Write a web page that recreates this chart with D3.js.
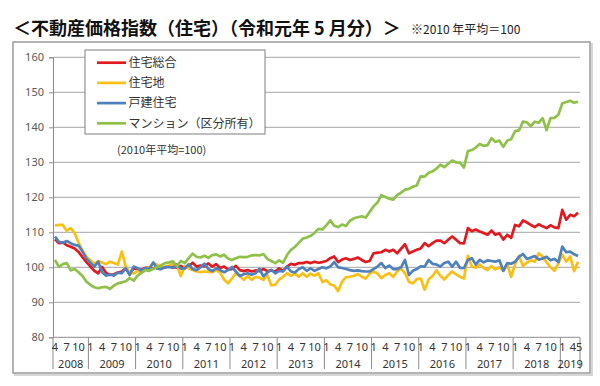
<!DOCTYPE html>
<html>
<head>
<meta charset="utf-8">
<script src="https://cdn.jsdelivr.net/npm/d3@7"></script>
<style>
  body { margin: 0; background: #fff; }
  svg { display: block; font-family: "Noto Sans CJK JP", "Noto Sans", sans-serif; }
</style>
</head>
<body>
<svg width="600" height="386"></svg>
<script>
// chart values (2010 avg = 100), monthly from 2008-04 to 2019-05
const years = [2008, 2009, 2010, 2011, 2012, 2013, 2014, 2015, 2016, 2017, 2018, 2019];
const firstMonth = 4;   // first month shown in 2008
const lastMonth = 5;    // last month shown in 2019
const tickMonths = [1, 4, 7, 10];
const yTicks = [80, 90, 100, 110, 120, 130, 140, 150, 160];

const seriesNames = ['住宅総合', '住宅地', '戸建住宅', 'マンション（区分所有）'];
const seriesColors = ['#e01a1f', '#fbbf14', '#4f81bd', '#8fc04a'];

const total = [
  108.0, 106.9, 107.1, 106.3, 105.9, 105.4, 104.4, 102.9, 101.5,
  100.3, 99.0, 98.3, 100.1, 98.4, 97.8, 98.0, 98.5, 98.8, 99.7, 98.2, 99.7,
  99.5, 99.3, 99.8, 100.0, 99.6, 100.2, 99.9, 100.0, 100.3, 100.1, 99.9, 100.4,
  99.7, 100.3, 101.3, 100.2, 100.5, 100.3, 101.1, 100.2, 100.9, 99.8, 100.2, 99.4,
  99.5, 100.4, 99.2, 98.9, 99.2, 98.8, 99.1, 98.9, 99.5, 98.9, 99.1, 98.8,
  99.7, 99.0, 100.2, 101.0, 100.7, 101.2, 101.2, 101.5, 101.2, 101.6, 101.3, 101.5,
  101.8, 102.6, 103.1, 101.5, 102.2, 102.6, 102.1, 102.4, 102.8, 102.1, 101.5, 101.8,
  104.0, 104.2, 104.3, 105.0, 104.5, 105.0, 104.0, 105.3, 106.6, 104.0, 104.5, 105.0,
  105.4, 106.9, 106.0, 106.9, 107.6, 107.6, 106.9, 107.9, 108.8, 107.9, 106.9, 106.8,
  111.2, 110.3, 110.8, 110.2, 109.8, 109.3, 110.5, 109.3, 109.7, 107.9, 109.3, 108.4,
  112.1, 111.7, 113.4, 112.8, 112.1, 111.5, 112.3, 111.7, 111.2, 112.0, 111.4, 111.2,
  116.4, 113.6, 115.0, 114.6, 115.6
];
const land = [
  111.9, 112.1, 112.1, 110.4, 111.2, 109.8, 107.0, 104.8, 103.0,
  102.0, 101.0, 101.8, 101.4, 100.9, 101.6, 101.2, 100.8, 104.5, 100.2, 98.6, 98.2,
  99.0, 98.5, 99.6, 100.0, 101.2, 100.7, 99.7, 100.2, 100.4, 101.0, 100.8, 97.5,
  100.2, 99.7, 99.2, 98.8, 98.6, 98.8, 98.7, 98.6, 99.2, 98.5, 96.5, 95.4,
  96.8, 98.3, 97.6, 96.4, 97.5, 96.4, 97.3, 97.0, 96.4, 97.8, 94.9, 95.0,
  96.5, 97.3, 98.3, 97.6, 98.2, 97.3, 98.3, 97.3, 98.2, 97.6, 98.3, 95.8,
  96.3, 95.1, 94.8, 93.2, 95.9, 97.2, 97.3, 97.6, 98.1, 97.3, 96.8, 98.2,
  98.8, 98.2, 96.9, 97.8, 98.3, 97.3, 98.8, 99.6, 98.3, 95.9, 95.4, 96.6,
  96.8, 93.6, 96.5, 97.5, 99.1, 97.6, 96.5, 97.8, 98.8, 98.0, 97.3, 96.8,
  103.3, 100.2, 99.9, 100.8, 99.8, 99.2, 100.4, 99.4, 100.0, 99.0, 100.8, 97.3,
  100.9, 103.3, 100.4, 101.3, 102.0, 101.6, 104.0, 103.1, 101.4, 100.0, 99.0, 101.1,
  103.6, 101.6, 103.1, 98.9, 101.6
];
const detached = [
  108.8, 107.3, 107.0, 107.5, 106.9, 106.4, 106.2, 104.5, 102.5,
  101.3, 100.2, 101.6, 98.6, 97.6, 98.0, 97.6, 98.5, 98.3, 99.7, 97.8, 100.2,
  99.7, 99.0, 99.8, 99.5, 101.4, 99.6, 99.5, 100.0, 100.1, 99.8, 100.8, 99.6,
  99.7, 100.9, 99.5, 99.2, 100.0, 101.0, 99.5, 98.9, 99.7, 99.2, 98.6, 99.2,
  100.1, 98.8, 97.5, 98.0, 98.3, 97.9, 98.3, 99.6, 97.4, 98.5, 99.3, 98.3,
  99.0, 98.8, 100.2, 98.8, 98.5, 99.5, 100.0, 99.0, 99.7, 99.0, 99.5, 100.0,
  99.7, 100.2, 101.5, 100.0, 99.8, 99.5, 99.2, 99.0, 99.1, 98.9, 98.8, 98.8,
  99.5, 100.2, 101.2, 99.8, 100.5, 99.5, 99.5, 100.0, 102.1, 97.8, 99.0, 99.5,
  100.3, 100.2, 102.1, 101.0, 100.8, 100.2, 101.2, 101.6, 100.2, 101.6, 99.8, 99.8,
  102.1, 102.6, 100.8, 102.1, 101.4, 102.0, 101.8, 101.6, 102.0, 99.0, 101.2, 101.0,
  101.6, 103.0, 103.8, 102.4, 102.8, 103.2, 102.2, 102.5, 103.0, 102.0, 102.4, 101.5,
  105.9, 104.3, 104.5, 103.7, 103.2
];
const condo = [
  102.1, 100.1, 100.9, 101.2, 99.1, 99.5, 98.6, 97.5, 95.9,
  95.0, 94.3, 94.0, 94.3, 94.4, 93.8, 94.8, 95.4, 95.7, 96.0, 96.9, 96.2,
  97.6, 98.4, 99.2, 99.0, 99.6, 100.1, 100.6, 101.2, 101.4, 101.7, 100.3, 101.8,
  101.2, 102.6, 103.9, 103.0, 102.8, 103.3, 102.7, 103.5, 103.7, 103.1, 103.6, 102.5,
  102.1, 102.6, 103.0, 102.9, 103.0, 103.4, 103.5, 103.4, 103.8, 102.4, 101.8, 101.2,
  102.0, 101.3, 103.5, 105.0, 105.8, 107.0, 108.2, 108.5, 109.0, 109.8, 111.0, 110.8,
  112.0, 113.4, 111.9, 111.5, 112.2, 111.8, 113.3, 114.0, 114.3, 114.6, 114.2, 115.8,
  117.4, 118.5, 120.6, 120.1, 119.6, 119.3, 120.6, 121.3, 122.2, 122.4, 123.0, 123.4,
  126.0, 125.9, 127.0, 127.4, 128.2, 129.3, 128.6, 129.6, 130.5, 130.0, 129.9, 128.5,
  133.2, 133.5, 134.2, 135.2, 134.7, 134.9, 136.9, 135.8, 136.2, 134.4, 136.2, 136.6,
  138.9, 139.1, 141.6, 141.4, 140.3, 141.6, 141.3, 142.6, 139.2, 142.6, 142.7, 143.6,
  146.8, 147.2, 147.6, 147.0, 147.3
];
const seriesValues = [total, land, detached, condo];

const svg = d3.select('svg');
const width = +svg.attr('width');
const height = +svg.attr('height');

// month categories
const cats = [];
years.forEach((yr, k) => {
  const m0 = k === 0 ? firstMonth : 1;
  const m1 = k === years.length - 1 ? lastMonth : 12;
  for (let m = m0; m <= m1; m++) cats.push({ key: yr + '-' + m, year: yr, month: m });
});

const plot = { left: 53, right: 580, top: 57.3, bottom: 337.3 };

const x = d3.scaleBand()
  .domain(cats.map(d => d.key))
  .range([plot.left, plot.right]);
const xc = key => x(key) + x.bandwidth() / 2;

const y = d3.scaleLinear()
  .domain([80, 160])
  .range([plot.bottom, plot.top]);

// outer frame with soft shadow
svg.append('rect')
  .attr('x', 15).attr('y', 44).attr('width', 577).attr('height', 331)
  .attr('fill', 'none').attr('stroke', '#d6d6d6').attr('stroke-width', 2);
svg.append('rect')
  .attr('x', 13).attr('y', 42).attr('width', 577).attr('height', 331)
  .attr('fill', '#fff').attr('stroke', '#9a9a9a').attr('stroke-width', 1.5);

// title
svg.append('text')
  .attr('x', 13).attr('y', 35)
  .attr('font-size', 18).attr('font-weight', 'bold').attr('fill', '#111')
  .text('＜不動産価格指数（住宅）（令和元年 5 月分）＞');
svg.append('text')
  .attr('x', 411).attr('y', 34)
  .attr('font-size', 12).attr('fill', '#222')
  .text('※2010 年平均＝100');

// gridlines
svg.append('g')
  .selectAll('line').data(yTicks.slice(1)).enter().append('line')
  .attr('x1', plot.left).attr('x2', plot.right)
  .attr('y1', d => y(d)).attr('y2', d => y(d))
  .attr('stroke', '#a6a6a6').attr('stroke-width', 1);

// y axis
const yAxis = svg.append('g')
  .attr('transform', `translate(${plot.left},0)`)
  .call(d3.axisLeft(y).tickValues(yTicks).tickSize(4).tickPadding(5));
yAxis.select('.domain').attr('stroke', '#8c8c8c');
yAxis.selectAll('.tick line').attr('stroke', '#8c8c8c');
yAxis.selectAll('text')
  .attr('font-size', 11).attr('fill', '#595959')
  .attr('font-family', '"Liberation Sans Narrow", "Noto Sans", sans-serif');

// x axis: baseline, year separators, month and year labels
const xg = svg.append('g');
xg.append('line')
  .attr('x1', plot.left).attr('x2', plot.right)
  .attr('y1', plot.bottom).attr('y2', plot.bottom)
  .attr('stroke', '#8c8c8c');

const yearGroups = years.map(yr => {
  const ks = cats.filter(c => c.year === yr);
  return { year: yr, x0: x(ks[0].key), x1: x(ks[ks.length - 1].key) + x.bandwidth() };
});
const sepX = [plot.left].concat(yearGroups.map(g => g.x1));
xg.selectAll('line.sep').data(sepX).enter().append('line')
  .attr('class', 'sep')
  .attr('x1', d => d).attr('x2', d => d)
  .attr('y1', plot.bottom).attr('y2', 369)
  .attr('stroke', '#8c8c8c');

// the last two labels (4, 5) sit in neighbouring months: butt them together
const nCat = cats.length;
const monthLabels = cats.filter((c, i) => tickMonths.includes(c.month) || i === nCat - 1);
const lastPair = (x(cats[nCat - 1].key));
xg.selectAll('text.m').data(monthLabels).enter().append('text')
  .attr('class', 'm')
  .attr('x', (d, i) => i >= monthLabels.length - 2 ? lastPair : xc(d.key))
  .attr('y', 351)
  .attr('text-anchor', (d, i) => i === monthLabels.length - 2 ? 'end'
    : i === monthLabels.length - 1 ? 'start' : 'middle')
  .attr('font-size', 11).attr('fill', '#333')
  .attr('font-family', '"Liberation Sans Narrow", "Noto Sans", sans-serif')
  .text(d => d.month);

xg.selectAll('text.yr').data(yearGroups).enter().append('text')
  .attr('class', 'yr')
  .attr('x', d => (d.x0 + d.x1) / 2).attr('y', 368)
  .attr('text-anchor', 'middle')
  .attr('font-size', 11).attr('fill', '#333')
  .attr('font-family', '"Liberation Sans Narrow", "Noto Sans", sans-serif')
  .text(d => d.year);

// series lines
const line = d3.line()
  .x((v, i) => xc(cats[i].key))
  .y(v => y(v));

svg.append('g')
  .selectAll('path').data(seriesValues).enter().append('path')
  .attr('d', line)
  .attr('fill', 'none')
  .attr('stroke', (d, i) => seriesColors[i])
  .attr('stroke-width', 2.7)
  .attr('stroke-linejoin', 'round');

// legend
const lg = svg.append('g');
lg.append('rect')
  .attr('x', 85).attr('y', 50).attr('width', 180).attr('height', 84)
  .attr('fill', '#fff').attr('stroke', '#7f7f7f').attr('stroke-width', 1);
const items = lg.selectAll('g.item').data(seriesNames).enter().append('g')
  .attr('class', 'item')
  .attr('transform', (d, i) => `translate(0,${62.7 + i * 20.2})`);
items.append('line')
  .attr('x1', 97).attr('x2', 126)
  .attr('stroke', (d, i) => seriesColors[i]).attr('stroke-width', 2.7);
items.append('text')
  .attr('x', 128.5).attr('dy', '0.36em')
  .attr('font-size', 12).attr('fill', '#333')
  .text(d => d);

svg.append('text')
  .attr('x', 117).attr('y', 154)
  .attr('font-size', 11).attr('fill', '#333')
  .text('(2010年平均=100)');
</script>
</body>
</html>
